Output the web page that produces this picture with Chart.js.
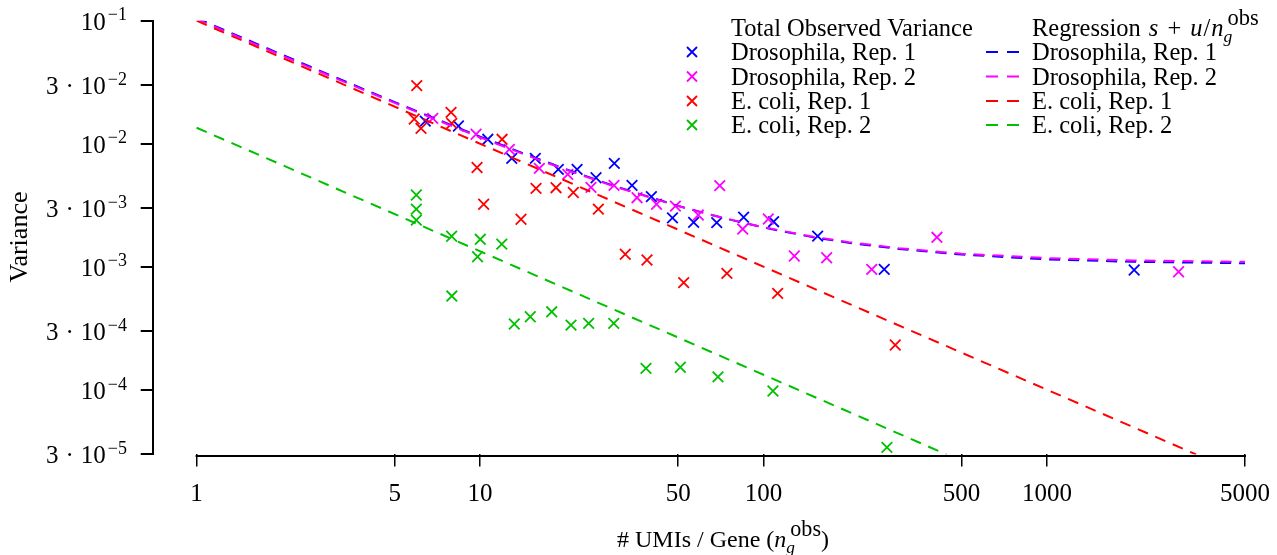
<!DOCTYPE html>
<html>
<head>
<meta charset="utf-8">
<script src="https://cdn.jsdelivr.net/npm/chart.js@4.4.1/dist/chart.umd.min.js"></script>
<style>
  html, body { margin: 0; padding: 0; background: #fff; }
  canvas { display: block; }
</style>
</head>
<body>
<canvas id="chart" width="1277" height="555"></canvas>
<script>
// ---- data ----
const xTicks = [1, 5, 10, 50, 100, 500, 1000, 5000];
const yTicks = [3e-5, 1e-4, 3e-4, 1e-3, 3e-3, 1e-2, 3e-2, 1e-1];
const yTickMant = ['3', '', '3', '', '3', '', '3', ''];
const yTickExp = ['−5', '−4', '−4', '−3', '−3', '−2', '−2', '−1'];

// Drosophila, Rep. 1
const droso1N = [6.41, 8.39, 10.65, 12.94, 15.67, 18.89, 22.0, 25.66, 29.77, 34.37, 40.23, 47.75, 56.7, 68.4, 85.1, 108.6, 155.3, 266.7, 2032];
const droso1Var = [0.0153, 0.01395, 0.01088, 0.00762, 0.00762, 0.0062, 0.0062, 0.0053, 0.00694, 0.0046, 0.00372, 0.0025, 0.0023, 0.00229, 0.00253, 0.00233, 0.00178, 0.000956, 0.000944];

// Drosophila, Rep. 2
const droso2N = [6.81, 9.68, 12.69, 16.19, 20.39, 24.63, 29.7, 35.8, 41.95, 48.9, 58.9, 70.1, 84.5, 104, 128.5, 167.1, 240.9, 409.3, 2915];
const droso2Var = [0.0161, 0.01195, 0.00902, 0.00632, 0.00565, 0.00443, 0.0046, 0.00365, 0.00323, 0.00312, 0.00264, 0.00457, 0.00203, 0.00245, 0.001226, 0.001188, 0.000956, 0.00174, 0.000914];

// E. coli, Rep. 1
const ecoli1N = [5.98, 5.86, 6.19, 7.90, 7.95, 11.96, 9.76, 10.3, 13.95, 15.76, 18.54, 21.34, 26.15, 32.54, 38.82, 52.3, 74.3, 112.2, 291.7];
const ecoli1Var = [0.0297, 0.0159, 0.01336, 0.0180, 0.01467, 0.01088, 0.00642, 0.00323, 0.00244, 0.00435, 0.0044, 0.00402, 0.00295, 0.001268, 0.001138, 0.000745, 0.000887, 0.00061, 0.000232];

// E. coli, Rep. 2
const ecoli2N = [5.96, 5.96, 5.96, 7.94, 10.02, 11.93, 9.8, 7.95, 13.21, 15.04, 17.9, 20.94, 24.17, 29.63, 38.5, 50.9, 69.1, 108, 272.7];
const ecoli2Var = [0.00384, 0.00295, 0.0024, 0.001776, 0.001676, 0.00153, 0.00121, 0.00058, 0.000344, 0.000394, 0.000432, 0.000337, 0.000348, 0.000348, 0.00015, 0.000153, 0.000128, 0.0000982, 0.0000342];

// regression curves s + u/n
const regN = [1, 2, 3, 5, 7, 10, 15, 20, 30, 50, 70, 100, 150, 200, 300, 500, 1000, 2000, 5000];
const regDroso1 = [0.105, 0.053, 0.0357, 0.0218, 0.0159, 0.01145, 0.00798, 0.00625, 0.00452, 0.00313, 0.00254, 0.00209, 0.00174, 0.00157, 0.0014, 0.00126, 0.00115, 0.0011, 0.00107];
const regDroso2 = [0.1031, 0.0521, 0.0351, 0.0215, 0.0157, 0.01128, 0.00788, 0.00618, 0.00448, 0.00312, 0.00254, 0.0021, 0.00176, 0.00159, 0.00142, 0.00128, 0.00118, 0.00113, 0.0011];
const regEcoli1N = [1, 3360];
const regEcoli1 = [0.1, 3e-5];
const regEcoli2N = [1, 442];
const regEcoli2 = [0.0135, 3e-5];

const seriesNames = ['Drosophila, Rep. 1', 'Drosophila, Rep. 2', 'E. coli, Rep. 1', 'E. coli, Rep. 2'];
const colors = ['#0000ff', '#ff00ff', '#ff0000', '#00c000'];

const FONT = '"Liberation Serif", "Times New Roman", serif';

const toXY = (xs, ys) => xs.map((x, i) => ({ x: x, y: ys[i] }));

function points(label, xs, ys, color) {
    return {
        label: label, data: toXY(xs, ys), showLine: false,
        pointStyle: 'crossRot', pointRadius: 7.5, pointBorderWidth: 1.8,
        borderColor: color, backgroundColor: color
    };
}

function regLine(label, xs, ys, color) {
    return {
        label: label, data: toXY(xs, ys), showLine: true, pointRadius: 0,
        borderColor: color, borderWidth: 2, borderDash: [11, 8], tension: 0
    };
}

// text with italic parts, gaps and stacked sub/superscripts
const SCRIPT = 0.72;

function partWidth(ctx, p, size) {
    if (p.gap !== undefined) return p.gap;
    if (p.t !== undefined) {
        ctx.font = (p.it ? 'italic ' : '') + size + 'px ' + FONT;
        return ctx.measureText(p.t).width;
    }
    ctx.font = (size * (p.supScale || SCRIPT)) + 'px ' + FONT;
    const a = p.sup ? ctx.measureText(p.sup).width : 0;
    ctx.font = 'italic ' + (size * SCRIPT) + 'px ' + FONT;
    const b = p.sub ? ctx.measureText(p.sub).width : 0;
    return Math.max(a + (p.supShift || 0), b) + 1;
}

function drawRich(ctx, parts, x, y, size, align, raise) {
    raise = raise || 0.42;
    const total = parts.reduce((s, p) => s + partWidth(ctx, p, size), 0);
    if (align === 'center') x -= total / 2;
    if (align === 'right') x -= total;
    ctx.textAlign = 'left';
    ctx.textBaseline = 'alphabetic';
    parts.forEach(p => {
        const w = partWidth(ctx, p, size);
        if (p.t !== undefined) {
            ctx.font = (p.it ? 'italic ' : '') + size + 'px ' + FONT;
            ctx.fillText(p.t, x, y);
        } else if (p.gap === undefined) {
            if (p.sup) {
                ctx.font = (size * (p.supScale || SCRIPT)) + 'px ' + FONT;
                ctx.fillText(p.sup, x + 1 + (p.supShift || 0), y - size * (p.raise || raise));
            }
            if (p.sub) {
                ctx.font = 'italic ' + (size * SCRIPT) + 'px ' + FONT;
                ctx.fillText(p.sub, x, y + size * 0.24);
            }
        }
        x += w;
    });
}

// n_g^obs with the upright "obs" set at text size
const nObs = [{ t: 'n', it: true }, { sub: 'g', sup: 'obs', supScale: 0.92, supShift: 3, raise: 0.46 }];

const decorations = {
    id: 'decorations',
    afterDraw(chart) {
        const ctx = chart.ctx;
        const xs = chart.scales.x, ys = chart.scales.y, area = chart.chartArea;
        ctx.save();
        ctx.fillStyle = '#000';
        ctx.strokeStyle = '#000';

        // detached x axis line
        ctx.lineWidth = 2;
        ctx.beginPath();
        ctx.moveTo(xs.getPixelForValue(xTicks[0]) - 1, area.bottom + 1.5);
        ctx.lineTo(xs.getPixelForValue(xTicks[xTicks.length - 1]) + 1, area.bottom + 1.5);
        ctx.stroke();

        // y tick labels like 3·10^-2
        yTicks.forEach((v, i) => {
            const py = ys.getPixelForValue(v);
            const parts = yTickMant[i]
                ? [{ t: yTickMant[i] }, { gap: 7 }, { t: '·' }, { gap: 7 }, { t: '10' }, { gap: 1 }, { sup: yTickExp[i] }]
                : [{ t: '10' }, { gap: 1 }, { sup: yTickExp[i] }];
            drawRich(ctx, parts, 127, py + 9, 25, 'right', 0.38);
        });

        // axis titles
        drawRich(ctx, [{ t: '# UMIs / Gene (' }].concat(nObs, [{ t: ')' }]), 723, 547, 24, 'center');
        ctx.save();
        ctx.translate(27, 237);
        ctx.rotate(-Math.PI / 2);
        drawRich(ctx, [{ t: 'Variance' }], 0, 0, 26, 'center');
        ctx.restore();

        // legend, two columns
        const LF = 24.5;
        const rowY = [36, 60, 84.5, 109, 133];
        drawRich(ctx, [{ t: 'Total Observed Variance' }], 731, rowY[0], LF, 'left');
        drawRich(ctx, [{ t: 'Regression' }, { gap: 8 }, { t: 's', it: true }, { gap: 9 }, { t: '+' }, { gap: 9 },
            { t: 'u', it: true }, { gap: 1 }, { t: '/' }, { gap: 1 }].concat(nObs), 1032, rowY[0], LF, 'left');
        seriesNames.forEach((name, i) => {
            const y = rowY[i + 1];
            const cy = y - 8;
            ctx.strokeStyle = colors[i];
            ctx.lineWidth = 1.8;
            ctx.beginPath();
            ctx.moveTo(692 - 5, cy - 5); ctx.lineTo(692 + 5, cy + 5);
            ctx.moveTo(692 - 5, cy + 5); ctx.lineTo(692 + 5, cy - 5);
            ctx.stroke();
            ctx.lineWidth = 2;
            ctx.beginPath();
            ctx.moveTo(986, cy); ctx.lineTo(998, cy);
            ctx.moveTo(1007, cy); ctx.lineTo(1019, cy);
            ctx.stroke();
            ctx.fillStyle = '#000';
            drawRich(ctx, [{ t: name }], 731, y, LF, 'left');
            drawRich(ctx, [{ t: name }], 1032, y, LF, 'left');
        });
        ctx.restore();
    }
};

const ctx = document.getElementById('chart').getContext('2d');
new Chart(ctx, {
    type: 'scatter',
    data: {
        // first dataset is drawn on top
        datasets: [
            regLine('reg ' + seriesNames[3], regEcoli2N, regEcoli2, colors[3]),
            regLine('reg ' + seriesNames[2], regEcoli1N, regEcoli1, colors[2]),
            regLine('reg ' + seriesNames[1], regN, regDroso2, colors[1]),
            regLine('reg ' + seriesNames[0], regN, regDroso1, colors[0]),
            points(seriesNames[3], ecoli2N, ecoli2Var, colors[3]),
            points(seriesNames[2], ecoli1N, ecoli1Var, colors[2]),
            points(seriesNames[1], droso2N, droso2Var, colors[1]),
            points(seriesNames[0], droso1N, droso1Var, colors[0])
        ]
    },
    options: {
        responsive: false,
        animation: false,
        events: [],
        layout: { padding: { left: 140.7, top: 20.7, right: 32, bottom: 0 } },
        plugins: { legend: { display: false }, tooltip: { enabled: false } },
        scales: {
            x: {
                type: 'logarithmic',
                min: 0.706,
                max: 5000,
                afterBuildTicks: s => { s.ticks = xTicks.map(v => ({ value: v })); },
                afterFit: s => { s.height = 100.6; s.paddingLeft = 0; s.paddingRight = 0; },
                border: { display: false },
                grid: { drawOnChartArea: false, drawTicks: true, tickLength: 12, color: '#000', lineWidth: 1.5 },
                ticks: {
                    color: '#000', padding: 13, autoSkip: false, maxRotation: 0,
                    font: { family: FONT, size: 25 },
                    callback: v => String(v)
                }
            },
            y: {
                type: 'logarithmic',
                min: 3e-5,
                max: 0.1,
                afterBuildTicks: s => { s.ticks = yTicks.map(v => ({ value: v })); },
                afterFit: s => { s.width = 12; s.paddingTop = 0; s.paddingBottom = 0; },
                border: { display: true, color: '#000', width: 2 },
                grid: { drawOnChartArea: false, drawTicks: true, tickLength: 12, color: '#000', lineWidth: 2 },
                ticks: { display: false }
            }
        }
    },
    plugins: [decorations]
});
</script>
</body>
</html>
